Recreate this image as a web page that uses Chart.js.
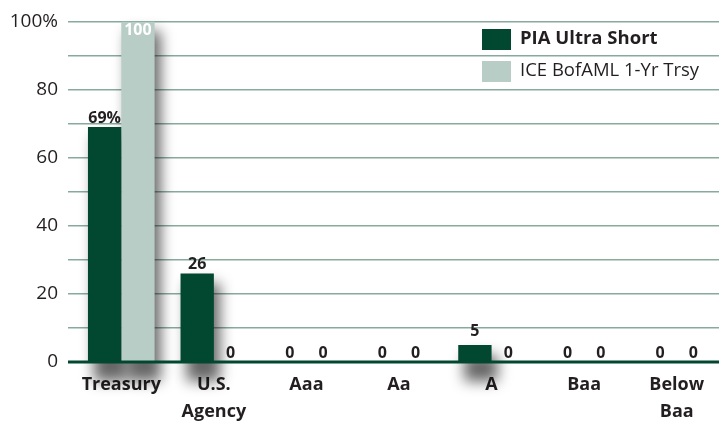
<!DOCTYPE html>
<html>
<head>
<meta charset="utf-8">
<script src="https://cdn.jsdelivr.net/npm/chart.js@4"></script>
<style>
  html, body { margin: 0; padding: 0; background: #ffffff; overflow: hidden; }
  .wrap { width: 723px; height: 423px; position: relative; }
</style>
</head>
<body>
<div class="wrap"><canvas id="qualityChart"></canvas></div>
<script>
const categories = ["Treasury", ["U.S.", "Agency"], "Aaa", "Aa", "A", "Baa", ["Below", "Baa"]];
const piaUltraShort = [69, 26, 0, 0, 5, 0, 0];
const iceBofAml = [100, 0, 0, 0, 0, 0, 0];
const seriesNames = ["PIA Ultra Short", "ICE BofAML 1-Yr Trsy"];
const yTickLabels = { 0: "0", 20: "20", 40: "40", 60: "60", 80: "80", 100: "100%" };

const darkGreen = "#02472f";
const lightGreen = "#b8cdc6";
const gridGreen = "#87aa9c";
const font = "'Open Sans', 'Noto Sans', sans-serif";

// soft drop shadow behind the bars
const shadowPlugin = {
  id: "barShadow",
  beforeDatasetsDraw(chart) {
    const ctx = chart.ctx;
    ctx.save();
    ctx.filter = "blur(7px)";
    ctx.fillStyle = "rgba(0,0,0,0.6)";
    chart.data.datasets.forEach((ds, di) => {
      chart.getDatasetMeta(di).data.forEach((bar) => {
        const h = bar.base - bar.y;
        if (h < 1) return;
        ctx.fillRect(bar.x - bar.width / 2 + 6, bar.y + 10, bar.width, h + 10);
      });
    });
    ctx.restore();
  },
};

// baseline on top, then value labels
const valueLabels = {
  id: "valueLabels",
  afterDatasetsDraw(chart) {
    const ctx = chart.ctx;
    const y0 = chart.scales.y.getPixelForValue(0);
    ctx.save();
    ctx.strokeStyle = darkGreen;
    ctx.lineWidth = 3;
    ctx.beginPath();
    ctx.moveTo(chart.chartArea.left - 7, y0);
    ctx.lineTo(chart.chartArea.right, y0);
    ctx.stroke();

    ctx.font = "bold 16px " + font;
    ctx.textAlign = "center";
    chart.data.datasets.forEach((ds, di) => {
      chart.getDatasetMeta(di).data.forEach((bar, i) => {
        let v = ds.data[i];
        let txt = String(v);
        if (di === 0 && i === 0) txt = v + "%";
        if (v >= 90) {
          ctx.fillStyle = "#ffffff";
          ctx.textBaseline = "top";
          ctx.fillText(txt, bar.x, bar.y + 1);
        } else {
          ctx.fillStyle = "#231f20";
          ctx.textBaseline = "bottom";
          ctx.fillText(txt, bar.x, bar.y - (v > 0 && v < 10 ? 6 : 1));
        }
      });
    });
    ctx.restore();
  },
};

// legend drawn in the upper right of the plot
const boxLegend = {
  id: "boxLegend",
  afterDraw(chart) {
    const ctx = chart.ctx;
    ctx.save();
    ctx.textBaseline = "middle";
    ctx.textAlign = "left";
    const rows = [39, 71];
    chart.data.datasets.forEach((ds, i) => {
      ctx.fillStyle = ds.backgroundColor;
      ctx.fillRect(482, rows[i] - 10, 29, 21);
      ctx.fillStyle = "#231f20";
      ctx.font = (i === 0 ? "bold 18.5px " : "18.5px ") + font;
      ctx.fillText(ds.label, 520, rows[i]);
    });
    ctx.restore();
  },
};

new Chart(document.getElementById("qualityChart"), {
  type: "bar",
  data: {
    labels: categories,
    datasets: [
      { label: seriesNames[0], data: piaUltraShort, backgroundColor: darkGreen },
      { label: seriesNames[1], data: iceBofAml, backgroundColor: lightGreen },
    ],
  },
  options: {
    responsive: true,
    maintainAspectRatio: false,
    animation: false,
    layout: { padding: { top: 13, right: 0, left: 0, bottom: -11 } },
    categoryPercentage: 0.72,
    barPercentage: 1.0,
    plugins: {
      legend: { display: false },
      tooltip: { enabled: false },
    },
    scales: {
      x: {
        grid: { display: false, drawTicks: false },
        border: { display: false },
        ticks: {
          color: "#231f20",
          font: { family: font, size: 18, weight: "bold", lineHeight: 1.5 },
          padding: 9,
          maxRotation: 0,
          autoSkip: false,
        },
      },
      y: {
        min: 0,
        max: 100,
        border: { display: false },
        afterFit: (scale) => { scale.width = 75; },
        grid: {
          color: gridGreen,
          lineWidth: 1.5,
          drawTicks: true,
          tickLength: 7,
        },
        ticks: {
          stepSize: 10,
          color: "#231f20",
          padding: 10,
          font: { family: font, size: 19 },
          callback: (v) => (v in yTickLabels ? yTickLabels[v] : ""),
        },
      },
    },
  },
  plugins: [shadowPlugin, valueLabels, boxLegend],
});
</script>
</body>
</html>
